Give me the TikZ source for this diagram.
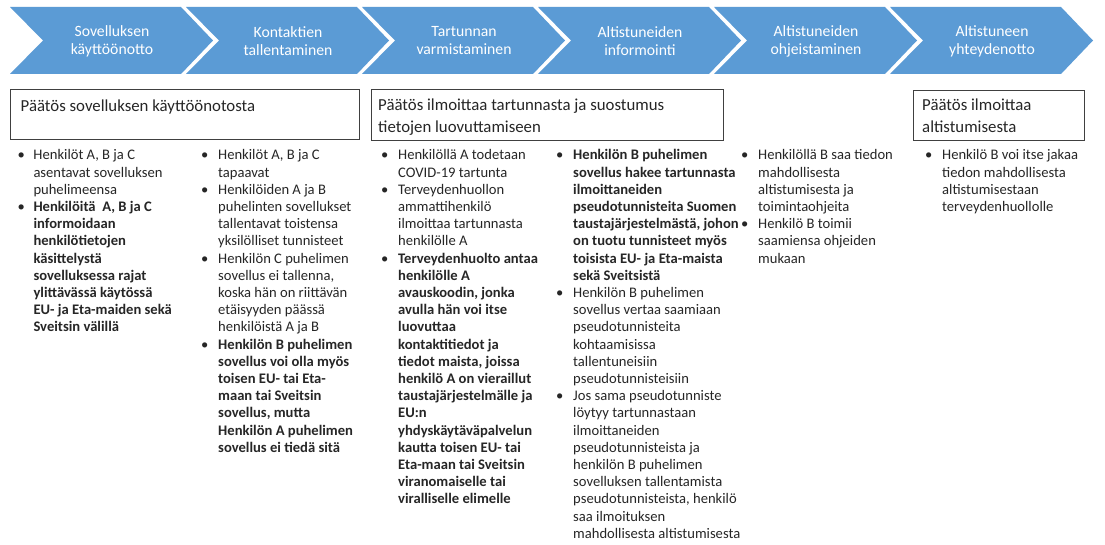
\documentclass[tikz,border=0pt]{standalone}
\usepackage{fontspec}
\setmainfont{Carlito}
\definecolor{chevblue}{RGB}{91,155,213}
\definecolor{boxgray}{RGB}{64,64,64}
\definecolor{txt}{RGB}{38,38,38}
\newlength\bulw
\setlength\bulw{15.5pt}
\newcommand\bl{\makebox[\bulw][l]{\textbullet}}
\begin{document}
\begin{tikzpicture}[x=1pt,y=-1pt,
  chev/.style={fill=chevblue, draw=none},
  chevtext/.style={text=white, font=\fontsize{15.7}{18}\selectfont, align=center, inner sep=0},
  decbox/.style={draw=boxgray, line width=1.3pt, fill=white, anchor=north west, inner sep=0},
  dectext/.style={font=\fontsize{16.8}{21.7}\selectfont, text=txt, align=left, inner sep=0, anchor=base west},
  bul/.style={font=\fontsize{14.6}{17.2}\selectfont, text=txt, inner sep=0, anchor=base west}]
\useasboundingbox[fill=white] (0,0) rectangle (1105,545);
% chevrons
\foreach \i/\t in {0/{Sovelluksen\\käyttöönotto},1/{Kontaktien\\tallentaminen},2/{Tartunnan\\varmistaminen},3/{Altistuneiden\\informointi},4/{Altistuneiden\\ohjeistaminen},5/{Altistuneen\\yhteydenotto}}{
  \pgfmathsetmacro\xl{10+176*\i}
  \draw[chev] (\xl,7) -- ++(171,0) -- ++(32,33.5) -- ++(-32,33.5) -- ++(-171,0) -- ++(33,-33.5) -- cycle;
  \node[chevtext] (c\i) at (\xl+102,41) {\t};
}
% decision boxes
\node[decbox, minimum width=349pt, minimum height=50pt] (d1) at (10,89) {};
\node[dectext] (d1t) at (20.5,111.5) {Päätös sovelluksen käyttöönotosta};
\node[decbox, minimum width=352pt, minimum height=51pt] (d2) at (371,89) {};
\node[dectext] (d2t) at (378,132.3) {Päätös ilmoittaa tartunnasta ja suostumus\\tietojen luovuttamiseen};
\node[decbox, minimum width=171pt, minimum height=50pt] (d3) at (913,90) {};
\node[dectext] (d3t) at (922,132.7) {Päätös ilmoittaa\\altistumisesta};
% bullet columns
\node[bul] (b1) at (17.5,160) {\setlength\bulw{15.8pt}\begin{tabular}[t]{@{}l@{}l@{}}
\bl & Henkilöt A, B ja C\\
 & asentavat sovelluksen\\
 & puhelimeensa\\
\bl & \textbf{Henkilöitä\ \ A, B ja C}\\
 & \textbf{informoidaan}\\
 & \textbf{henkilötietojen}\\
 & \textbf{käsittelystä}\\
 & \textbf{sovelluksessa rajat}\\
 & \textbf{ylittävässä käytössä}\\
 & \textbf{EU- ja Eta-maiden sekä}\\
 & \textbf{Sveitsin välillä}
\end{tabular}};
\node[bul] (b2) at (201,160) {\setlength\bulw{17pt}\begin{tabular}[t]{@{}l@{}l@{}}
\bl & Henkilöt A, B ja C\\
 & tapaavat\\
\bl & Henkilöiden A ja B\\
 & puhelinten sovellukset\\
 & tallentavat toistensa\\
 & yksilölliset tunnisteet\\
\bl & Henkilön C puhelimen\\
 & sovellus ei tallenna,\\
 & koska hän on riittävän\\
 & etäisyyden päässä\\
 & henkilöistä A ja B\\
\bl & \textbf{Henkilön B puhelimen}\\
 & \textbf{sovellus voi olla myös}\\
 & \textbf{toisen EU- tai Eta-}\\
 & \textbf{maan tai Sveitsin}\\
 & \textbf{sovellus, mutta}\\
 & \textbf{Henkilön A puhelimen}\\
 & \textbf{sovellus ei tiedä sitä}
\end{tabular}};
\node[bul] (b3) at (381,160) {\setlength\bulw{17pt}\begin{tabular}[t]{@{}l@{}l@{}}
\bl & Henkilöllä A todetaan\\
 & COVID-19 tartunta\\
\bl & Terveydenhuollon\\
 & ammattihenkilö\\
 & ilmoittaa tartunnasta\\
 & henkilölle A\\
\bl & \textbf{Terveydenhuolto antaa}\\
 & \textbf{henkilölle A}\\
 & \textbf{avauskoodin, jonka}\\
 & \textbf{avulla hän voi itse}\\
 & \textbf{luovuttaa}\\
 & \textbf{kontaktitiedot ja}\\
 & \textbf{tiedot maista, joissa}\\
 & \textbf{henkilö A on vieraillut}\\
 & \textbf{taustajärjestelmälle ja}\\
 & \textbf{EU:n}\\
 & \textbf{yhdyskäytäväpalvelun}\\
 & \textbf{kautta toisen EU- tai}\\
 & \textbf{Eta-maan tai Sveitsin}\\
 & \textbf{viranomaiselle tai}\\
 & \textbf{viralliselle elimelle}
\end{tabular}};
\node[bul] (b4) at (556,160) {\setlength\bulw{17pt}\begin{tabular}[t]{@{}l@{}l@{}}
\bl & \textbf{Henkilön B puhelimen}\\
 & \textbf{sovellus hakee tartunnasta}\\
 & \textbf{ilmoittaneiden}\\
 & \textbf{pseudotunnisteita Suomen}\\
 & \textbf{taustajärjestelmästä, johon}\\
 & \textbf{on tuotu tunnisteet myös}\\
 & \textbf{toisista EU- ja Eta-maista}\\
 & \textbf{sekä Sveitsistä}\\
\bl & Henkilön B puhelimen\\
 & sovellus vertaa saamiaan\\
 & pseudotunnisteita\\
 & kohtaamisissa\\
 & tallentuneisiin\\
 & pseudotunnisteisiin\\
\bl & Jos sama pseudotunniste\\
 & löytyy tartunnastaan\\
 & ilmoittaneiden\\
 & pseudotunnisteista ja\\
 & henkilön B puhelimen\\
 & sovelluksen tallentamista\\
 & pseudotunnisteista, henkilö\\
 & saa ilmoituksen\\
 & mahdollisesta altistumisesta
\end{tabular}};
\node[bul] (b5) at (741,160) {\setlength\bulw{17pt}\begin{tabular}[t]{@{}l@{}l@{}}
\bl & Henkilöllä B saa tiedon\\
 & mahdollisesta\\
 & altistumisesta ja\\
 & toimintaohjeita\\
\bl & Henkilö B toimii\\
 & saamiensa ohjeiden\\
 & mukaan
\end{tabular}};
\node[bul] (b6) at (925,160) {\setlength\bulw{17pt}\begin{tabular}[t]{@{}l@{}l@{}}
\bl & Henkilö B voi itse jakaa\\
 & tiedon mahdollisesta\\
 & altistumisestaan\\
 & terveydenhuollolle
\end{tabular}};
\end{tikzpicture}
\end{document}
